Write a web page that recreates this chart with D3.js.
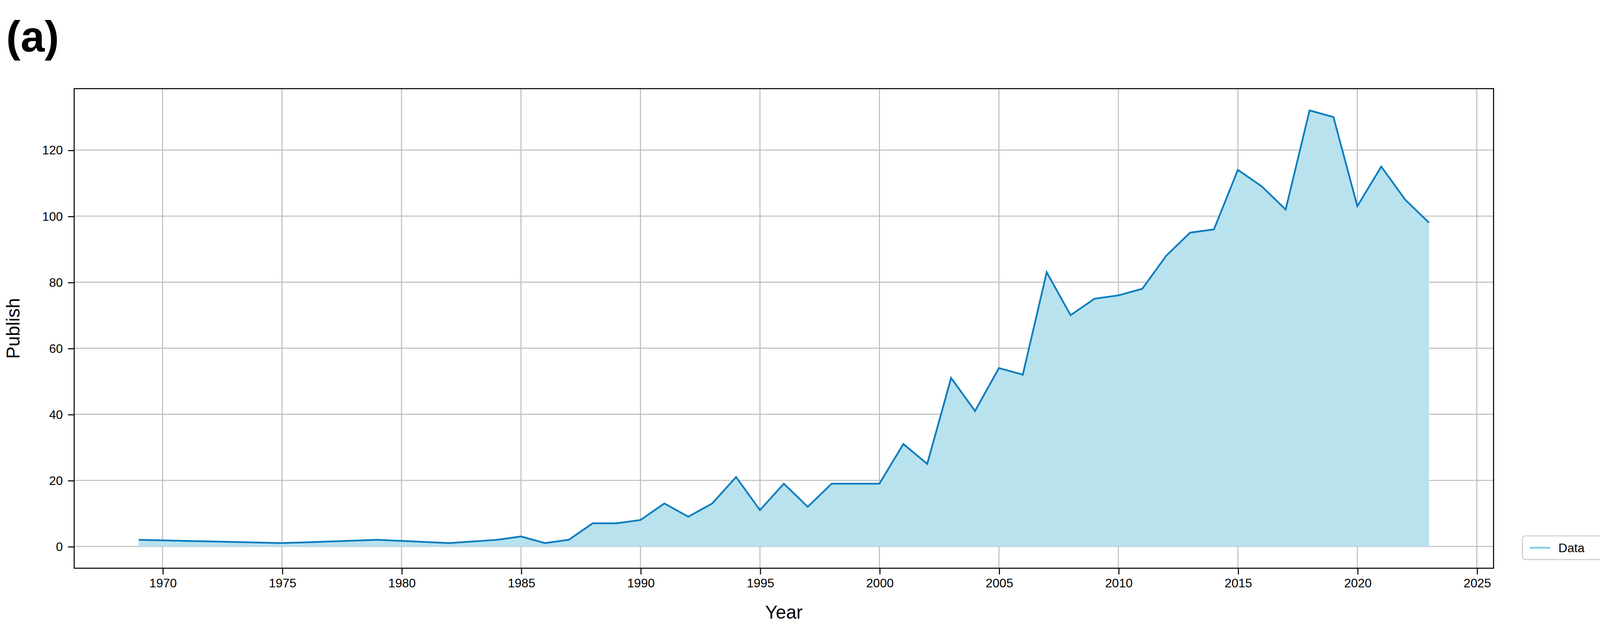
<!DOCTYPE html>
<html>
<head>
<meta charset="utf-8">
<script src="https://cdn.jsdelivr.net/npm/d3@7"></script>
<style>
  body { margin: 0; background: #fff; }
  text { font-family: "Liberation Sans", Arial, sans-serif; }
</style>
</head>
<body>
<svg id="chart"></svg>
<script>
// data
const years = [1969, 1975, 1979, 1982, 1984, 1985, 1986, 1987, 1988, 1989, 1990, 1991, 1992, 1993, 1994, 1995, 1996, 1997, 1998, 1999, 2000, 2001, 2002, 2003, 2004, 2005, 2006, 2007, 2008, 2009, 2010, 2011, 2012, 2013, 2014, 2015, 2016, 2017, 2018, 2019, 2020, 2021, 2022, 2023];
const publish = [2, 1, 2, 1, 2, 3, 1, 2, 7, 7, 8, 13, 9, 13, 21, 11, 19, 12, 19, 19, 19, 31, 25, 51, 41, 54, 52, 83, 70, 75, 76, 78, 88, 95, 96, 114, 109, 102, 132, 130, 103, 115, 105, 98];
const xTicks = [1970, 1975, 1980, 1985, 1990, 1995, 2000, 2005, 2010, 2015, 2020, 2025];
const yTicks = [0, 20, 40, 60, 80, 100, 120];

const W = 1567, H = 609.4;
const margin = { top: 86, right: 117, bottom: 58, left: 72 };
const width = W - margin.left - margin.right;
const height = H - margin.top - margin.bottom;

const data = years.map((y, i) => ({ year: y, value: publish[i] }));

const svg = d3.select('#chart')
  .attr('width', 4132)
  .attr('height', 1607)
  .attr('viewBox', `0 0 ${W} ${H}`);

const g = svg.append('g').attr('transform', `translate(${margin.left}, ${margin.top})`);

const x = d3.scaleLinear().domain([1966.3, 2025.7]).range([0, width]);
const y = d3.scaleLinear().domain([-6.6, 138.6]).range([height, 0]);

// grid
g.selectAll('.vgrid').data(xTicks).enter().append('line')
  .attr('x1', (d) => x(d)).attr('x2', (d) => x(d))
  .attr('y1', 0).attr('y2', height)
  .attr('stroke', '#bdbdbd').attr('stroke-width', 1);
g.selectAll('.hgrid').data(yTicks).enter().append('line')
  .attr('x1', 0).attr('x2', width)
  .attr('y1', (d) => y(d)).attr('y2', (d) => y(d))
  .attr('stroke', '#bdbdbd').attr('stroke-width', 1);

// area + line
g.append('path').datum(data)
  .attr('fill', '#b8e2ee')
  .attr('d', d3.area().x((d) => x(d.year)).y0(y(0)).y1((d) => y(d.value)));
g.append('path').datum(data)
  .attr('fill', 'none')
  .attr('stroke', '#0a7dbf')
  .attr('stroke-width', 1.7)
  .attr('d', d3.line().x((d) => x(d.year)).y((d) => y(d.value)));

// axes
const xAxis = g.append('g').attr('transform', `translate(0, ${height})`)
  .call(d3.axisBottom(x).tickValues(xTicks).tickFormat(d3.format('d')).tickSize(6).tickPadding(4));
const yAxis = g.append('g')
  .call(d3.axisLeft(y).tickValues(yTicks).tickSize(6).tickPadding(5));
[xAxis, yAxis].forEach((a) => {
  a.select('.domain').remove();
  a.selectAll('text').attr('font-size', 12).attr('fill', '#000')
    .style('font-family', '"Liberation Sans", Arial, sans-serif');
  a.selectAll('line').attr('stroke', '#000');
});

g.append('rect').attr('width', width).attr('height', height)
  .attr('fill', 'none').attr('stroke', '#000').attr('stroke-width', 1);

// labels
g.append('text').attr('x', width / 2).attr('y', height + 49)
  .attr('text-anchor', 'middle').attr('font-size', 18).text('Year');
g.append('text').attr('transform', 'rotate(-90)')
  .attr('x', -height / 2).attr('y', -53)
  .attr('text-anchor', 'middle').attr('font-size', 18).text('Publish');

svg.append('text').attr('x', 6).attr('y', 50)
  .attr('font-size', 42).attr('font-weight', 'bold').text('(a)');

// legend
const lg = svg.append('g').attr('transform', 'translate(1478, 520)');
lg.append('rect').attr('width', 80).attr('height', 23).attr('rx', 3)
  .attr('fill', '#fff').attr('stroke', '#ccc');
lg.append('line').attr('x1', 7).attr('x2', 27).attr('y1', 11.5).attr('y2', 11.5)
  .attr('stroke', '#7fcbe6').attr('stroke-width', 1.7);
lg.append('text').attr('x', 35).attr('y', 16).attr('font-size', 12).text('Data');
</script>
</body>
</html>
